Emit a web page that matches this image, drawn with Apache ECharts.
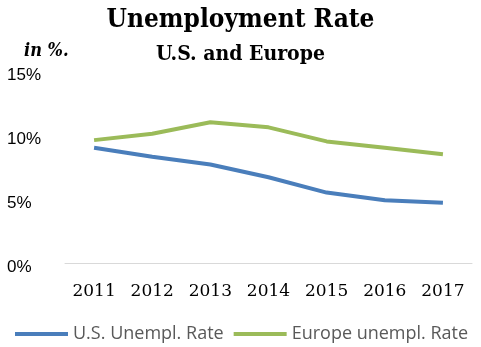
<!DOCTYPE html>
<html><head><meta charset="utf-8">
<script src="https://cdn.jsdelivr.net/npm/echarts@6/dist/echarts.min.js"></script>
<style>html,body{margin:0;padding:0;background:#fff}#c{width:481px;height:347px}</style>
</head><body><div id="c"></div>
<script>
const years = ['2011','2012','2013','2014','2015','2016','2017'];
const usRate = [9.0, 8.3, 7.7, 6.7, 5.5, 4.9, 4.7];
const euRate = [9.6, 10.1, 11.0, 10.6, 9.5, 9.0, 8.5];
const seriesNames = ['U.S. Unempl. Rate', 'Europe unempl. Rate'];
const titleText = 'Unemployment Rate';
const subText = 'U.S. and Europe';
const unitText = 'in %.';

const chart = echarts.init(document.getElementById('c'), null, {renderer:'canvas'});
chart.setOption({
  animation: false,
  title: [
    {text: titleText, left: 'center', top: 2, textStyle:{fontFamily:'DejaVu Serif Condensed, DejaVu Serif', fontWeight:'bold', fontSize:26, color:'#000'}},
    {text: subText, left: 'center', top: 39, textStyle:{fontFamily:'DejaVu Serif Condensed, DejaVu Serif', fontWeight:'bold', fontSize:21, color:'#000'}},
    {text: unitText, left: 19, top: 37, textStyle:{fontFamily:'DejaVu Serif Condensed, DejaVu Serif', fontWeight:'bold', fontStyle:'italic', fontSize:18, color:'#000'}}
  ],
  legend: {
    data: seriesNames, left: 10, top: 320, itemWidth: 53, itemHeight: 4, itemGap: 10,
    icon: 'rect',
    textStyle: {fontFamily:'Open Sans', fontSize:18, color:'#595959'}
  },
  grid: {left: 65, right: 9, top: 71, bottom: 84},
  xAxis: {
    type: 'category', data: years, boundaryGap: true,
    axisLine: {show: true, lineStyle: {color:'#d9d9d9', width:1}},
    axisTick: {show: false},
    axisLabel: {fontFamily:'DejaVu Serif', fontSize:17, color:'#000', margin: 20}
  },
  yAxis: {
    type: 'value', min: 0, max: 15, interval: 5,
    splitLine: {show: false},
    axisLine: {show: false}, axisTick: {show: false},
    axisLabel: {formatter: '{value}%', align:'left', verticalAlign:'top', lineHeight: 8, margin: 58, fontFamily:'Liberation Sans', fontSize:17, color:'#000'}
  },
  series: [
    {name: seriesNames[0], type:'line', data: usRate, symbol:'none', lineStyle:{color:'#4A7EBB', width:4}, itemStyle:{color:'#4A7EBB'}},
    {name: seriesNames[1], type:'line', data: euRate, symbol:'none', lineStyle:{color:'#9BBB59', width:4}, itemStyle:{color:'#9BBB59'}}
  ]
});
</script></body></html>
